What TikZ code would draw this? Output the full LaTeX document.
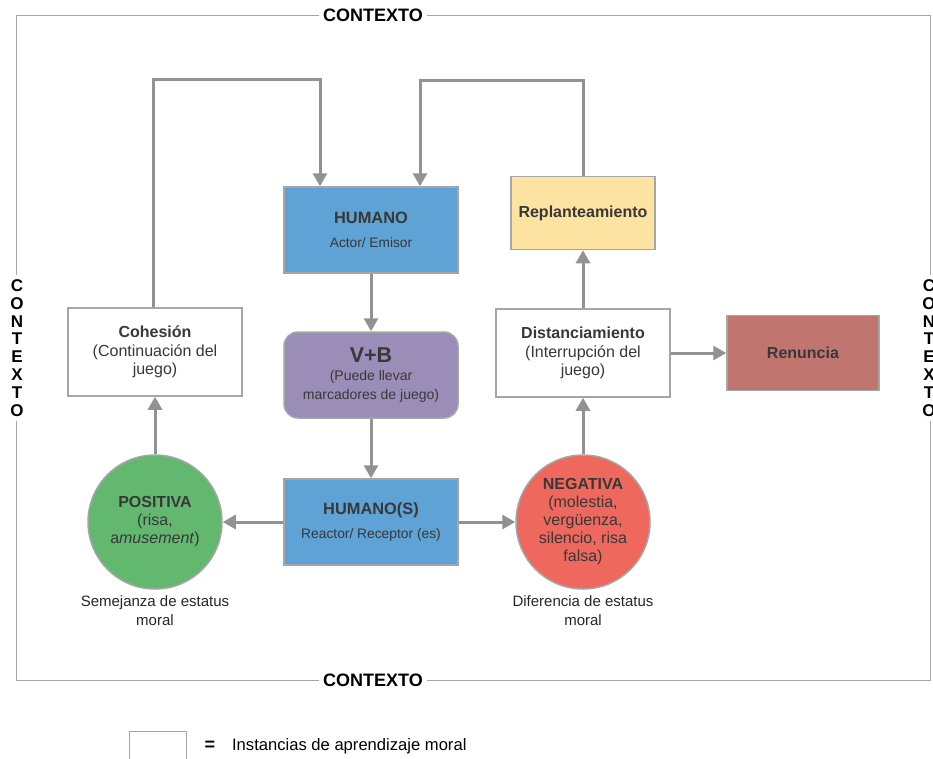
\documentclass[tikz,border=0pt]{standalone}
\usepackage{fontspec}
\setmainfont{Liberation Sans}
\usetikzlibrary{arrows.meta, positioning}

\definecolor{flowgray}{HTML}{929292}
\definecolor{boxline}{HTML}{A6A6A6}
\definecolor{boxtext}{HTML}{383838}
\definecolor{humblue}{HTML}{5FA2D5}
\definecolor{vbpurple}{HTML}{9A8EB9}
\definecolor{repyellow}{HTML}{FDE3A2}
\definecolor{renred}{HTML}{C1756F}
\definecolor{posgreen}{HTML}{63B870}
\definecolor{negred}{HTML}{EE685E}

\begin{document}
\begin{tikzpicture}[x=1pt, y=-1pt,
  box/.style={draw=boxline, line width=1.5pt, minimum width=174pt, minimum height=86pt, align=center, text=boxtext, font=\fontsize{16}{18.5}\selectfont},
  emo/.style={circle, draw=boxline, line width=1.5pt, minimum size=134pt, inner sep=0pt, align=center, text=boxtext, font=\fontsize{16}{18}\selectfont},
  flow/.style={draw=flowgray, line width=3pt, -{Triangle[length=13pt,width=14pt]}},
  ctx/.style={fill=white, text=black, font=\bfseries\fontsize{18}{18}\selectfont, inner sep=4pt},
  note/.style={align=center, text=black!85, font=\fontsize{15}{19}\selectfont}]

\useasboundingbox (0,0) rectangle (933,758);

% context frame
\draw[boxline, line width=0.8pt] (16,15) rectangle (930,680);
\node[ctx] (ctxtop) at (373,15) {CONTEXTO};
\node[ctx] (ctxbot) at (373,680) {CONTEXTO};
\node[ctx, align=center, font=\bfseries\fontsize{17}{17.9}\selectfont] (ctxleft) at (17,348) {C\\O\\N\\T\\E\\X\\T\\O};
\node[ctx, align=center, font=\bfseries\fontsize{17}{17.9}\selectfont] (ctxright) at (929,348) {C\\O\\N\\T\\E\\X\\T\\O};

% boxes
\node[box, fill=humblue] (hum) at (371,230) {\textbf{\fontsize{16.4}{18}\selectfont HUMANO}\\[6pt]{\fontsize{13.7}{16}\selectfont Actor/ Emisor}};
\node[box, fill=vbpurple, rounded corners=14pt] (vb) at (371,375) {\textbf{\fontsize{21.5}{21}\selectfont V+B}\\{\fontsize{14}{17}\selectfont (Puede llevar}\\{\fontsize{14}{17}\selectfont marcadores de juego)}};
\node[box, fill=humblue] (hums) at (371,522) {\textbf{\fontsize{16.4}{18}\selectfont HUMANO(S)}\\[6pt]{\fontsize{13.8}{16}\selectfont Reactor/ Receptor (es)}};
\node[box, fill=repyellow, minimum width=144pt, minimum height=73pt] (rep) at (583,213) {\textbf{Replanteamiento}};
\node[box, fill=white, minimum height=88pt] (dist) at (583,353) {\textbf{Distanciamiento}\\(Interrupción del\\juego)};
\node[box, fill=renred, minimum width=152pt, minimum height=75pt] (ren) at (803,353) {\textbf{Renuncia}};
\node[box, fill=white, minimum height=88pt] (coh) at (155,352) {\textbf{Cohesión}\\(Continuación del\\juego)};

% reactions
\node[emo, fill=posgreen] (pos) at (155,522) {\textbf{POSITIVA}\\(risa,\\a\textit{musement})};
\node[emo, fill=negred] (neg) at (583,522) {\textbf{NEGATIVA}\\(molestia,\\vergüenza,\\silencio, risa\\falsa)};
\node[note, below=2pt of pos] (posnote) {Semejanza de estatus\\moral};
\node[note, below=2pt of neg] (negnote) {Diferencia de estatus\\moral};

% connectors
\draw[flow] (hum) -- (vb);
\draw[flow] (vb) -- (hums);
\draw[flow] (hums) -- (pos);
\draw[flow] (hums) -- (neg);
\draw[flow] (pos) -- (coh);
\draw[flow] (neg) -- (dist);
\draw[flow] (dist) -- (rep);
\draw[flow] (dist) -- (ren);
\draw[flow] ([xshift=-2pt]coh.north) -- ++(0,-228) -| ([xshift=-51pt]hum.north);
\draw[flow] (rep.north) -- ++(0,-95) -| ([xshift=49pt]hum.north);

% legend
\node[draw=boxline, line width=1pt, minimum width=57pt, minimum height=30pt] (legbox) at (158,746) {};
\node[right=14pt of legbox, font=\bfseries\fontsize{18}{18}\selectfont] (legeq) {=};
\node[right=10pt of legeq, font=\fontsize{16.6}{18}\selectfont] (legtext) {Instancias de aprendizaje moral};

\end{tikzpicture}
\end{document}
